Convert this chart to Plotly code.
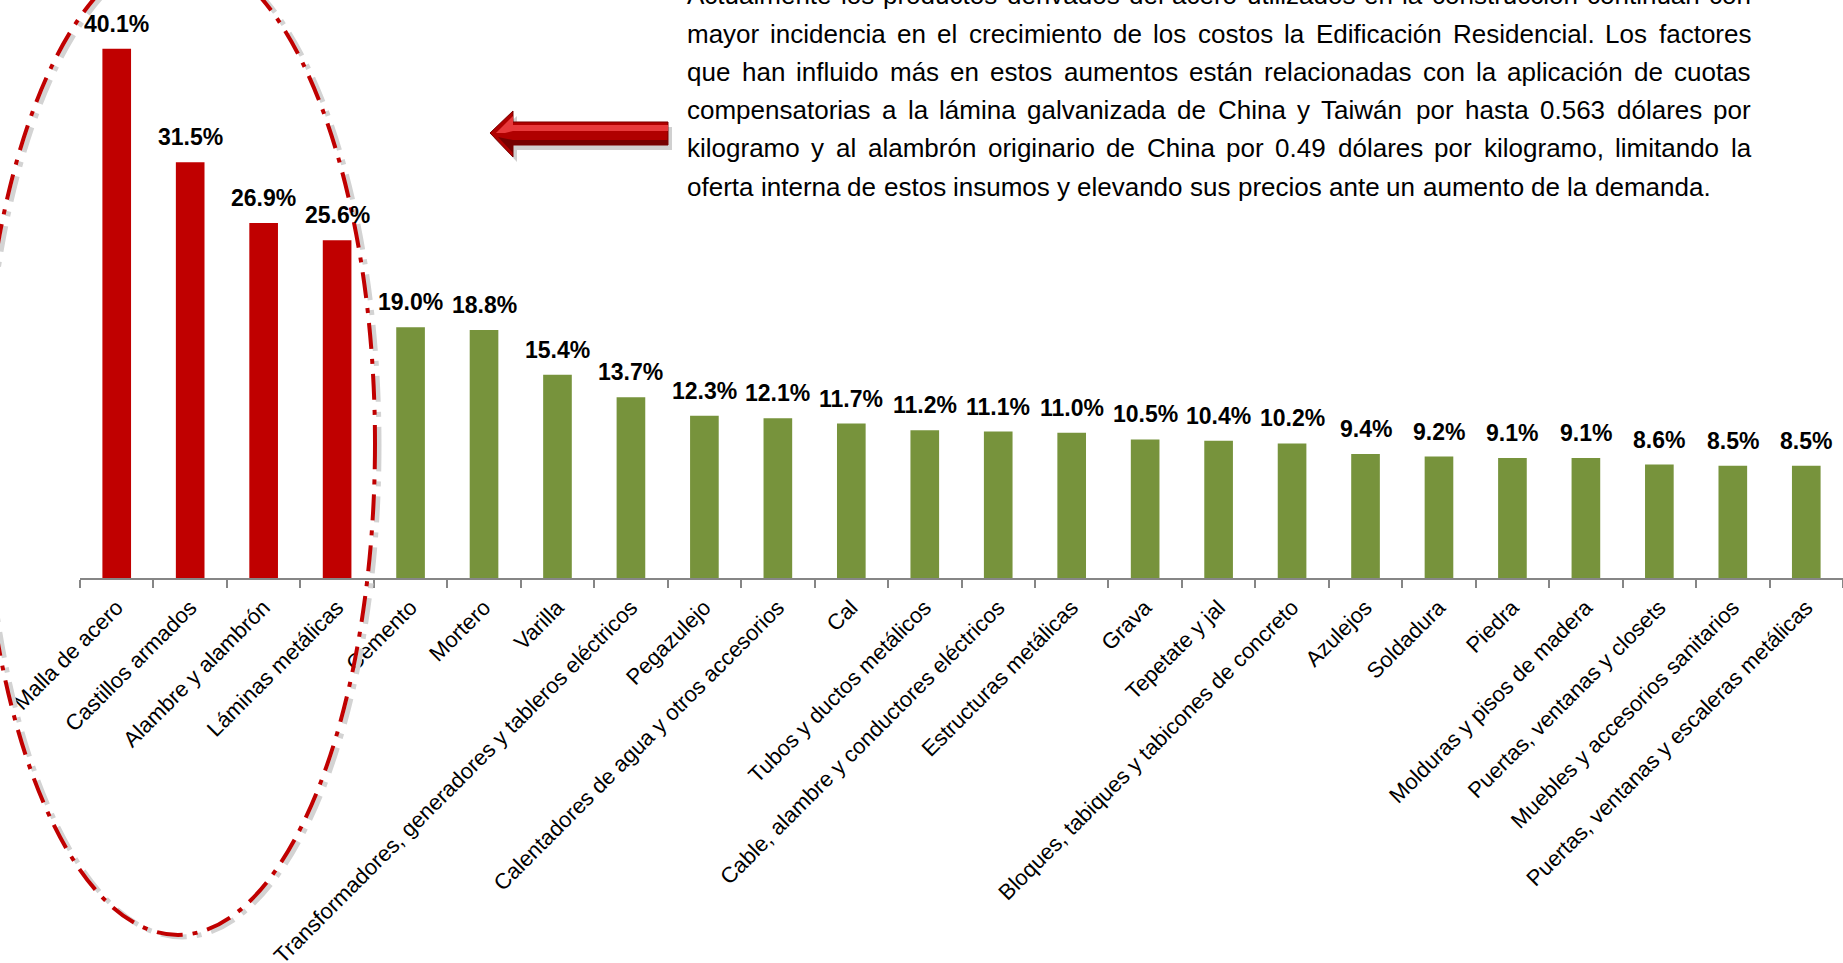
import plotly.graph_objects as go

# ---------------- data ----------------
categories = [
    "Malla de acero", "Castillos armados", "Alambre y alambrón", "Láminas metálicas",
    "Cemento", "Mortero", "Varilla", "Transformadores, generadores y tableros eléctricos",
    "Pegazulejo", "Calentadores de agua y otros accesorios", "Cal", "Tubos y ductos metálicos",
    "Cable, alambre y conductores eléctricos", "Estructuras metálicas", "Grava", "Tepetate y jal",
    "Bloques, tabiques y tabicones de concreto", "Azulejos", "Soldadura", "Piedra",
    "Molduras y pisos de madera", "Puertas, ventanas y closets",
    "Muebles y accesorios sanitarios", "Puertas, ventanas y escaleras metálicas",
]
values = [40.1, 31.5, 26.9, 25.6, 19.0, 18.8, 15.4, 13.7, 12.3, 12.1, 11.7, 11.2,
          11.1, 11.0, 10.5, 10.4, 10.2, 9.4, 9.2, 9.1, 9.1, 8.6, 8.5, 8.5]
steel_products = ["Malla de acero", "Castillos armados", "Alambre y alambrón", "Láminas metálicas"]
value_labels = [f"{v:.1f}%" for v in values]

paragraph_lines = [
    "Actualmente los productos derivados del acero utilizados en la construcción continúan con",
    "mayor incidencia en el crecimiento de los costos la Edificación Residencial. Los factores",
    "que han influido más en estos aumentos están relacionadas con la aplicación de cuotas",
    "compensatorias a la lámina galvanizada de China y Taiwán por hasta 0.563 dólares por",
    "kilogramo y al alambrón originario de China por 0.49 dólares por kilogramo, limitando la",
    "oferta interna de estos insumos y elevando sus precios ante un aumento de la demanda.",
]

# ---------------- layout helpers ----------------
W, H = 1843, 963
ML, MR, MT, MB = 80, 0, 0, 385
PW = W - ML - MR
PH = H - MT - MB
Y_MAX = 43.8

RED = "#C00000"
GREEN = "#77933C"
AXIS = "#868686"
FONT = "Liberation Sans, Arial, sans-serif"


def px(x):
    return (x - ML) / PW


def py(y):
    return (H - MB - y) / PH


# Arial / Liberation Sans advance widths (1/1000 em) for text justification
ARIAL = {" ": 278, ".": 278, ",": 278, "i": 222, "j": 222, "l": 222, "f": 278, "t": 278,
         "r": 333, "c": 500, "k": 500, "s": 500, "v": 500, "x": 500, "y": 500, "z": 500,
         "m": 833, "w": 722, "í": 278, "A": 667, "C": 722, "E": 667, "L": 556, "R": 722,
         "T": 611}


def text_width(s, size):
    return sum(ARIAL.get(ch, 556) for ch in s) / 1000.0 * size


colors = [RED if c in steel_products else GREEN for c in categories]

fig = go.Figure()
fig.add_trace(go.Bar(
    x=categories, y=values, marker=dict(color=colors, line=dict(width=0)),
    hoverinfo="x+y", showlegend=False,
))

annotations = []
for c, v, t in zip(categories, values, value_labels):
    annotations.append(dict(
        x=c, y=v, xref="x", yref="y", text=t, showarrow=False,
        yanchor="bottom", xanchor="center", yshift=12, borderpad=0, borderwidth=0,
        font=dict(family=FONT, size=23, color="#000000", weight="bold"),
    ))

# justified paragraph
PF = 26
TEXT_L, TEXT_R = 687, 1751
BASE0, LINE_H = 4.0, 38.3
for i, line in enumerate(paragraph_lines):
    words = line.split(" ")
    widths = [text_width(w_, PF) for w_ in words]
    if i == len(paragraph_lines) - 1:
        gap = text_width(" ", PF)
    else:
        gap = (TEXT_R - TEXT_L - sum(widths)) / (len(words) - 1)
    xcur = TEXT_L
    base = BASE0 + i * LINE_H
    for w_, wd in zip(words, widths):
        annotations.append(dict(
            x=px(xcur), y=py(base + 0.24 * PF), xref="paper", yref="paper",
            text=w_, showarrow=False, xanchor="left", yanchor="bottom",
            borderpad=0, borderwidth=0,
            font=dict(family=FONT, size=PF, color="#000000"),
        ))
        xcur += wd + gap

# ---------------- shapes: dashed ellipse and block arrow ----------------
shapes = []
DASH = "26px,10px,5px,10px"
shapes.append(dict(
    type="circle", xref="paper", yref="paper",
    x0=px(-15), x1=px(379), y0=py(937), y1=py(-46),
    line=dict(color="#D3D3D3", width=5, dash=DASH), layer="above",
))
shapes.append(dict(
    type="circle", xref="paper", yref="paper",
    x0=px(-19), x1=px(375), y0=py(935), y1=py(-48),
    line=dict(color=RED, width=4, dash=DASH), layer="above",
))


def poly(points):
    return "M " + " L ".join(f"{px(a):.5f},{py(b):.5f}" for a, b in points) + " Z"


tip = (490, 133)
arrow = [tip, (513, 111), (513, 122), (668, 122), (668, 145), (513, 145), (513, 157)]
shadow = [(a + 4, b + 5) for a, b in arrow]
shapes.append(dict(type="path", xref="paper", yref="paper", path=poly(shadow),
                   fillcolor="rgba(120,120,120,0.35)", line=dict(width=0), layer="above"))
shapes.append(dict(type="path", xref="paper", yref="paper", path=poly(arrow),
                   fillcolor="#B00000", line=dict(color="#7A0000", width=1), layer="above"))
shapes.append(dict(type="path", xref="paper", yref="paper",
                   path=poly([(496, 133), (513, 116), (513, 125), (668, 125), (668, 131), (513, 131), (505, 133)]),
                   fillcolor="#E8393B", line=dict(width=0), layer="above"))
shapes.append(dict(type="path", xref="paper", yref="paper",
                   path=poly([(513, 140), (668, 140), (668, 145), (513, 145), (513, 153), (498, 137)]),
                   fillcolor="#760000", line=dict(width=0), layer="above"))

fig.update_layout(
    width=W, height=H,
    margin=dict(l=ML, r=MR, t=MT, b=MB, pad=0, autoexpand=False),
    paper_bgcolor="white", plot_bgcolor="white",
    bargap=0.61,
    font=dict(family=FONT, color="#000000"),
    xaxis=dict(
        type="category", tickangle=-45, tickfont=dict(family=FONT, size=22, color="#000000"),
        showline=True, linecolor=AXIS, linewidth=2, automargin=False,
        ticks="outside", ticklen=8, tickwidth=2, tickcolor=AXIS, tickson="boundaries",
        ticklabelstandoff=6,
        showgrid=False, zeroline=False, fixedrange=True,
    ),
    yaxis=dict(range=[0, Y_MAX], visible=False, showgrid=False, zeroline=False,
               fixedrange=True, automargin=False),
    annotations=annotations,
    shapes=shapes,
)

fig.write_html("out.html")
